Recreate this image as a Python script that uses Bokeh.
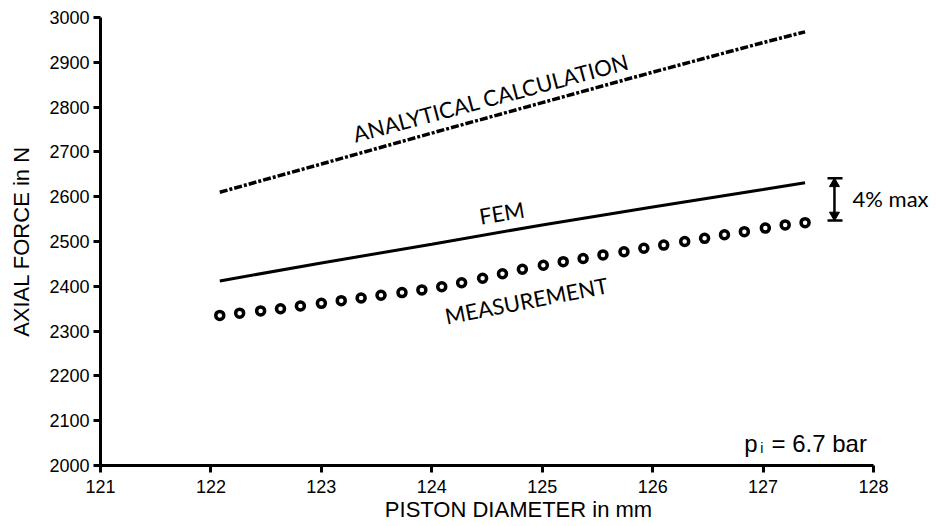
from bokeh.plotting import figure
from bokeh.models import Label, FixedTicker, Range1d
from bokeh.embed import file_html
from bokeh.resources import INLINE

# ---------------- data ----------------
x_ticks = [121, 122, 123, 124, 125, 126, 127, 128]
y_ticks = [2000, 2100, 2200, 2300, 2400, 2500, 2600, 2700, 2800, 2900, 3000]

meas_x = [122.08, 122.26, 122.45, 122.63, 122.81, 123.00, 123.18, 123.36, 123.54, 123.73,
          123.91, 124.09, 124.27, 124.46, 124.64, 124.82, 125.01, 125.19, 125.37, 125.55,
          125.74, 125.92, 126.10, 126.29, 126.47, 126.65, 126.83, 127.02, 127.20, 127.38]
meas_y = [2335, 2340, 2345, 2350, 2356, 2362, 2368, 2374, 2380, 2386,
          2392, 2399, 2408, 2418, 2428, 2438, 2447, 2455, 2462, 2470,
          2477, 2485, 2492, 2500, 2507, 2515, 2522, 2530, 2537, 2542]

fem_x = [122.08, 123.0, 124.0, 125.0, 126.0, 127.0, 127.38]
fem_y = [2412, 2452, 2494, 2537, 2577, 2616, 2631]

ana_x = [122.08, 123.0, 124.0, 125.0, 126.0, 127.0, 127.38]
ana_y = [2610, 2673, 2742, 2810, 2878, 2944, 2968]

bracket_x = 127.646
bracket_cap = [127.583, 127.719]
bracket_lo = 2547
bracket_hi = 2641

# ---------------- figure ----------------
# frame runs to the right page edge so the "4% max" note is not clipped;
# the x axis itself is bounded to 121..128
p = figure(width=936, height=526, x_range=Range1d(121, 128.570), y_range=Range1d(2000, 3000),
           output_backend="svg", toolbar_location=None,
           min_border_left=100, min_border_right=0, min_border_top=17, min_border_bottom=61)
p.outline_line_color = None
p.grid.visible = False
p.background_fill_color = "white"
p.border_fill_color = "white"

p.xaxis.ticker = FixedTicker(ticks=x_ticks)
p.yaxis.ticker = FixedTicker(ticks=y_ticks)
p.xaxis.bounds = (121, 128)
p.yaxis.bounds = (2000, 3000)
p.xaxis.axis_label = "PISTON DIAMETER in mm"
p.yaxis.axis_label = "AXIAL FORCE in N"
for ax in (p.xaxis[0], p.yaxis[0]):
    ax.axis_line_width = 3
    ax.axis_line_color = "black"
    ax.major_tick_line_width = 3
    ax.major_tick_line_color = "black"
    ax.major_tick_out = 7
    ax.major_tick_in = 0
    ax.minor_tick_out = 0
    ax.minor_tick_in = 0
    ax.major_label_text_font = "Liberation Sans"
    ax.major_label_text_font_size = "18px"
    ax.major_label_text_color = "black"
    ax.axis_label_text_font = "Liberation Sans"
    ax.axis_label_text_font_size = "22px"
    ax.axis_label_text_font_style = "normal"
    ax.axis_label_text_color = "black"
p.yaxis.major_label_standoff = 4
p.yaxis.axis_label_standoff = 12
p.xaxis.major_label_standoff = 7
p.xaxis.axis_label_standoff = 1

# ---------------- series ----------------
p.line(ana_x, ana_y, line_color="black", line_width=3.5, line_dash="8 2 3 2")
p.line(fem_x, fem_y, line_color="black", line_width=3)
p.scatter(meas_x, meas_y, marker="circle", size=8, line_width=3.5,
          line_color="black", fill_color="white")

# ---------------- texts ----------------
def lab(x, y, text, font, size, angle=0, align="left", baseline="alphabetic"):
    p.add_layout(Label(x=x, y=y, text=text, text_font=font, text_font_size=size,
                       angle=angle, angle_units="deg", text_align=align,
                       text_baseline=baseline, text_color="black"))

lab(123.29, 2739, "ANALYTICAL CALCULATION", "Lato", "22px", angle=15)
lab(124.43, 2556, "FEM", "Lato", "22px", angle=9.5)
lab(124.12, 2333, "MEASUREMENT", "Lato", "22px", angle=11)
lab(127.81, 2596, "4% max", "Lato", "22px")

lab(126.83, 2049, "p", "Liberation Sans", "24px")
lab(126.975, 2038, "i", "Liberation Sans", "14px")
lab(127.076, 2049, "= 6.7 bar", "Liberation Sans", "24px")

# ---------------- bracket (4% max) ----------------
p.segment(x0=[bracket_cap[0], bracket_cap[0], bracket_x], y0=[bracket_lo, bracket_hi, bracket_lo + 15],
          x1=[bracket_cap[1], bracket_cap[1], bracket_x], y1=[bracket_lo, bracket_hi, bracket_hi - 15],
          line_color="black", line_width=2.5)
p.scatter([bracket_x], [bracket_hi - 12], marker="triangle", size=10,
          fill_color="black", line_color="black", line_width=1)
p.scatter([bracket_x], [bracket_lo + 12], marker="inverted_triangle", size=10,
          fill_color="black", line_color="black", line_width=1)

open("out.html", "w").write(file_html(p, INLINE))
